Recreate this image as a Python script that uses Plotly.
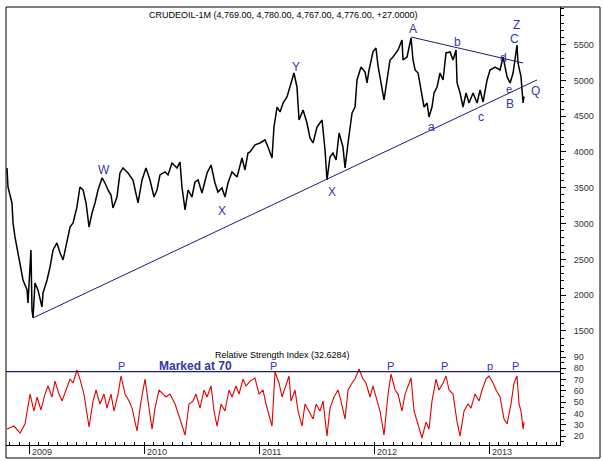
import plotly.graph_objects as go

# ---------------- data (time in decimal years) ----------------
price_t = [2008.809, 2008.817, 2008.852, 2008.861, 2008.878, 2008.904, 2008.922, 2008.948, 2008.983, 2008.991,
           2009.017, 2009.026, 2009.035, 2009.052, 2009.078, 2009.113, 2009.122, 2009.157, 2009.183, 2009.209,
           2009.243, 2009.270, 2009.296, 2009.330, 2009.357, 2009.383, 2009.417, 2009.443, 2009.470, 2009.496,
           2009.522, 2009.548, 2009.574, 2009.600, 2009.635, 2009.661, 2009.687, 2009.713, 2009.730, 2009.765,
           2009.791, 2009.817, 2009.861, 2009.904, 2009.948, 2009.983, 2010.017, 2010.052, 2010.087, 2010.113,
           2010.139, 2010.183, 2010.209, 2010.243, 2010.287, 2010.313, 2010.330, 2010.357, 2010.383, 2010.417,
           2010.443, 2010.470, 2010.504, 2010.548, 2010.583, 2010.617, 2010.643, 2010.678, 2010.704, 2010.730,
           2010.765, 2010.809, 2010.852, 2010.878, 2010.904, 2010.922, 2010.965, 2011.009, 2011.052, 2011.078,
           2011.113, 2011.130, 2011.157, 2011.183, 2011.209, 2011.243, 2011.261, 2011.287, 2011.304, 2011.330,
           2011.348, 2011.383, 2011.417, 2011.443, 2011.470, 2011.504, 2011.548, 2011.574, 2011.591, 2011.617,
           2011.643, 2011.670, 2011.696, 2011.730, 2011.748, 2011.774, 2011.809, 2011.835, 2011.852, 2011.887,
           2011.922, 2011.939, 2011.957, 2011.991, 2012.017, 2012.035, 2012.052, 2012.087, 2012.113, 2012.139,
           2012.165, 2012.209, 2012.243, 2012.252, 2012.287, 2012.322, 2012.339, 2012.357, 2012.383, 2012.417,
           2012.435, 2012.461, 2012.478, 2012.504, 2012.522, 2012.548, 2012.574, 2012.600, 2012.626, 2012.661,
           2012.687, 2012.713, 2012.722, 2012.748, 2012.774, 2012.800, 2012.826, 2012.861, 2012.896, 2012.922,
           2012.948, 2012.983, 2013.009, 2013.052, 2013.096, 2013.122, 2013.157, 2013.183, 2013.209, 2013.243,
           2013.252, 2013.278, 2013.296, 2013.304]
price_v = [3777, 3511, 3288, 3008, 2813, 2589, 2394, 2212, 2073, 1891,
           2631, 1793, 1681, 2170, 2073, 1835, 2031, 2212, 2394, 2631,
           2729, 2589, 2492, 2729, 2952, 3008, 3232, 3511, 3469, 3288,
           2952, 3148, 3288, 3469, 3637, 3567, 3469, 3399, 3218, 3371,
           3707, 3777, 3707, 3609, 3288, 3609, 3777, 3609, 3371, 3469,
           3679, 3721, 3679, 3846, 3777, 3860, 3511, 3190, 3469, 3371,
           3581, 3609, 3427, 3707, 3818, 3567, 3441, 3497, 3371, 3567,
           3721, 3651, 3916, 3749, 3986, 4000, 4100, 4126, 4168, 4070,
           3916, 4349, 4628, 4559, 4684, 4768, 4866, 5006, 5103, 4908,
           4447, 4587, 4405, 4196, 4126, 4349, 4447, 4028, 3609, 3930,
           3986, 3888, 4265, 4070, 3777, 4126, 4545, 4628, 5006, 5187,
           5117, 4964, 5145, 5400, 5452, 5200, 5060, 4726, 5006, 5285,
           5327, 5425, 5564, 5285, 5327, 5592, 5285, 5145, 5103, 4768,
           4628, 4684, 4489, 4628, 4824, 4908, 5103, 5006, 5383, 5397,
           5285, 5425, 4964, 4824, 4628, 4824, 4684, 4824, 4684, 4866,
           4698, 5006, 5145, 5187, 5145, 5327, 5048, 4964, 5103, 5494,
           5243, 5048, 4684, 4776]

rsi_t = [2008.809, 2008.870, 2008.922, 2008.965, 2009.009, 2009.043, 2009.070, 2009.104, 2009.139, 2009.165,
         2009.200, 2009.226, 2009.261, 2009.287, 2009.322, 2009.357, 2009.383, 2009.417, 2009.443, 2009.478,
         2009.522, 2009.557, 2009.583, 2009.617, 2009.652, 2009.678, 2009.713, 2009.739, 2009.774, 2009.800,
         2009.835, 2009.870, 2009.896, 2009.939, 2009.974, 2010.009, 2010.035, 2010.070, 2010.096, 2010.130,
         2010.165, 2010.191, 2010.226, 2010.270, 2010.313, 2010.357, 2010.391, 2010.426, 2010.452, 2010.487,
         2010.522, 2010.548, 2010.583, 2010.609, 2010.635, 2010.670, 2010.704, 2010.739, 2010.765, 2010.800,
         2010.826, 2010.861, 2010.887, 2010.922, 2010.965, 2011.000, 2011.035, 2011.061, 2011.096, 2011.113,
         2011.139, 2011.174, 2011.200, 2011.235, 2011.261, 2011.278, 2011.313, 2011.339, 2011.374, 2011.400,
         2011.435, 2011.470, 2011.496, 2011.530, 2011.557, 2011.591, 2011.617, 2011.652, 2011.687, 2011.713,
         2011.748, 2011.774, 2011.809, 2011.835, 2011.870, 2011.904, 2011.930, 2011.965, 2011.991, 2012.026,
         2012.052, 2012.087, 2012.122, 2012.148, 2012.183, 2012.209, 2012.243, 2012.270, 2012.322, 2012.348,
         2012.383, 2012.417, 2012.452, 2012.478, 2012.504, 2012.539, 2012.565, 2012.600, 2012.626, 2012.652,
         2012.687, 2012.722, 2012.748, 2012.783, 2012.817, 2012.843, 2012.878, 2012.913, 2012.939, 2012.974,
         2013.000, 2013.035, 2013.061, 2013.096, 2013.130, 2013.157, 2013.191, 2013.217, 2013.243, 2013.261,
         2013.278, 2013.296, 2013.304]
rsi_v = [26.2, 28.9, 22.7, 30.7, 57.2, 42.2, 54.6, 43.1, 57.2, 64.3,
         54.6, 68.7, 57.2, 51.0, 60.8, 70.5, 67.0, 78.5, 70.5, 57.2,
         28.0, 51.0, 60.8, 48.4, 57.2, 44.8, 57.2, 42.2, 57.2, 73.2,
         57.2, 51.0, 44.8, 24.5, 51.0, 70.5, 51.0, 26.2, 44.8, 60.8,
         57.2, 54.6, 57.2, 48.4, 35.1, 20.9, 48.4, 51.0, 57.2, 44.8,
         60.8, 54.6, 64.3, 42.2, 28.9, 48.4, 42.2, 60.8, 54.6, 64.3,
         57.2, 70.5, 64.3, 68.7, 71.4, 57.2, 60.8, 48.4, 35.1, 28.9,
         76.7, 67.0, 54.6, 64.3, 73.2, 51.0, 60.8, 42.2, 28.9, 48.4,
         42.2, 35.1, 48.4, 42.2, 51.0, 20.0, 44.8, 54.6, 60.8, 51.0,
         35.1, 60.8, 67.0, 70.5, 79.4, 70.5, 67.0, 54.6, 64.3, 51.0,
         42.2, 20.9, 57.2, 74.9, 60.8, 57.2, 42.2, 57.2, 71.4, 42.2,
         28.9, 18.3, 32.4, 26.2, 51.0, 70.5, 60.8, 67.0, 73.2, 60.8,
         57.2, 32.4, 20.0, 42.2, 48.4, 44.8, 57.2, 51.0, 60.8, 70.5,
         73.2, 67.0, 60.8, 54.6, 35.1, 30.7, 48.4, 67.0, 73.2, 48.4,
         42.2, 26.2, 32.6]

# trendlines (time, price)
lower_t = [2009.035, 2013.417]
lower_p = [1682, 5006]
upper_t = [2012.322, 2013.296]
upper_p = [5606, 5243]

# wave labels
wave_text = ["W", "X", "Y", "X", "A", "b", "a", "c", "d", "e", "B", "C", "Z", "Q"]
wave_t = [2009.652, 2010.678, 2011.322, 2011.635, 2012.339, 2012.722, 2012.496, 2012.930,
          2013.122, 2013.174, 2013.183, 2013.217, 2013.243, 2013.400]
wave_p = [3749, 3176, 5187, 3441, 5718, 5536, 4349, 4489, 5313, 4880, 4670, 5578, 5774, 4852]
wave_size = [12, 12, 12, 12, 12, 12, 12, 12, 12, 11, 12, 12, 12, 12]

# RSI peak marks
peak_text = ["P", "P", "P", "P", "p", "P"]
peak_t = [2009.800, 2011.130, 2012.139, 2012.617, 2013.009, 2013.226]
mark_level = 77

years = [2009, 2010, 2011, 2012, 2013]
price_ticks = [1500, 2000, 2500, 3000, 3500, 4000, 4500, 5000, 5500]
rsi_ticks = [20, 30, 40, 50, 60, 70, 80, 90]

title_text = "CRUDEOIL-1M (4,769.00, 4,780.00, 4,767.00, 4,776.00, +27.0000)"
rsi_title = "Relative Strength Index (32.6284)"

# ---------------- figure ----------------
W, H = 603, 461
FONT = "Liberation Sans, Arial, sans-serif"
BLUE = "#3535a8"
NAVY = "#1c1c70"

def py(px):
    return 1 - px / H

def pxx(px):
    return px / W

fig = go.Figure()
fig.add_trace(go.Scatter(x=price_t, y=price_v, mode="lines", line=dict(color="black", width=1.5),
                         xaxis="x2", yaxis="y2", hoverinfo="skip"))
fig.add_trace(go.Scatter(x=lower_t, y=lower_p, mode="lines", line=dict(color=NAVY, width=1),
                         xaxis="x2", yaxis="y2", hoverinfo="skip"))
fig.add_trace(go.Scatter(x=upper_t, y=upper_p, mode="lines", line=dict(color=NAVY, width=1),
                         xaxis="x2", yaxis="y2", hoverinfo="skip"))
fig.add_trace(go.Scatter(x=rsi_t, y=rsi_v, mode="lines", line=dict(color="#e00000", width=1.1),
                         xaxis="x", yaxis="y", hoverinfo="skip"))

xr = [2008.800, 2013.617]
xdom = [pxx(6), pxx(560)]
tickfont = dict(family=FONT, size=9, color="#333333")

fig.update_layout(
    width=W, height=H, margin=dict(l=0, r=0, t=0, b=0),
    paper_bgcolor="white", plot_bgcolor="white", showlegend=False,
    xaxis=dict(domain=xdom, range=xr, anchor="y", showgrid=False, zeroline=False,
               showline=True, linecolor="black", linewidth=1,
               tickvals=years, ticks="outside", ticklen=8, tickcolor="black", showticklabels=False,
               minor=dict(ticks="inside", dtick=1/12, tick0=2009, ticklen=3, tickcolor="black")),
    yaxis=dict(domain=[py(445), py(342)], range=[12.1, 103.3], side="right", anchor="x",
               showgrid=False, zeroline=False, showline=True, linecolor="black", linewidth=1,
               tickvals=rsi_ticks, ticks="outside", ticklen=5, tickcolor="black",
               tickfont=tickfont, ticklabelstandoff=6,
               minor=dict(ticks="outside", dtick=5, tick0=0, ticklen=3, tickcolor="black")),
    xaxis2=dict(domain=xdom, range=xr, anchor="y2", matches="x", visible=False),
    yaxis2=dict(domain=[py(342), py(7)], range=[1346, 6025], side="right", anchor="x2",
                showgrid=False, zeroline=False, showline=True, linecolor="black", linewidth=1,
                tickvals=price_ticks, ticks="outside", ticklen=5, tickcolor="black",
                tickfont=tickfont, ticklabelstandoff=6,
                minor=dict(ticks="outside", dtick=100, tick0=0, ticklen=3, tickcolor="black")),
)

shapes = [
    dict(type="rect", xref="paper", yref="paper", x0=pxx(6), x1=pxx(600), y0=py(458), y1=py(7),
         line=dict(color="black", width=1)),
    dict(type="line", xref="x domain", yref="y", x0=0, x1=1, y0=mark_level, y1=mark_level,
         line=dict(color=NAVY, width=1.3)),
]
fig.update_layout(shapes=shapes)

ann = []
ann.append(dict(text=title_text, xref="paper", yref="paper", x=pxx(283), y=py(15), showarrow=False,
                font=dict(family=FONT, size=9, color="black"), xanchor="center", yanchor="middle"))
ann.append(dict(text=rsi_title, xref="paper", yref="paper", x=pxx(282), y=py(355), showarrow=False,
                font=dict(family=FONT, size=9, color="black"), xanchor="center", yanchor="middle"))
ann.append(dict(text="<b>Marked at 70</b>", xref="paper", yref="paper", x=pxx(195), y=py(366),
                showarrow=False, font=dict(family=FONT, size=12, color=BLUE),
                xanchor="center", yanchor="middle"))
for txt, t, p, s in zip(wave_text, wave_t, wave_p, wave_size):
    ann.append(dict(text=txt, x=t, y=p, xref="x2", yref="y2", showarrow=False,
                    font=dict(family=FONT, size=s, color=BLUE), xanchor="center", yanchor="middle"))
for txt, t in zip(peak_text, peak_t):
    ann.append(dict(text=txt, x=t, y=py(366), xref="x", yref="paper", showarrow=False,
                    font=dict(family=FONT, size=11, color=BLUE), xanchor="center", yanchor="middle"))
for yv in years:
    ann.append(dict(text=str(yv), x=yv, y=py(452), xref="x", yref="paper", showarrow=False,
                    font=tickfont, xanchor="left", yanchor="middle", xshift=1))
fig.update_layout(annotations=ann)

fig.write_html("out.html")
